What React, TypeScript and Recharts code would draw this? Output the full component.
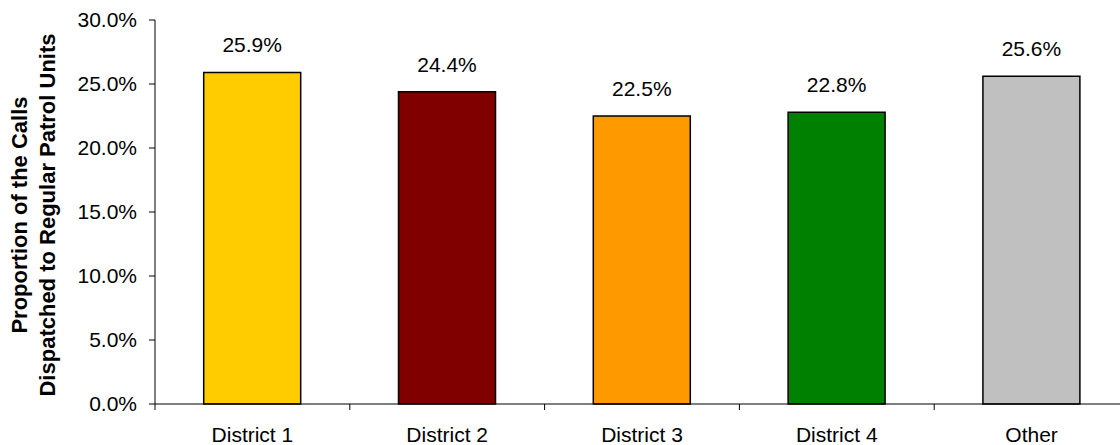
import React from 'react';
import { BarChart, Bar, XAxis, YAxis, Cell, LabelList, Label } from 'recharts';

const categories = ['District 1', 'District 2', 'District 3', 'District 4', 'Other'];
const values = [25.9, 24.4, 22.5, 22.8, 25.6];
const colors = ['#FFCC00', '#800000', '#FF9900', '#008000', '#C0C0C0'];
const yTicks = [0, 5, 10, 15, 20, 25, 30];
const titleLines = ['Proportion of the Calls', 'Dispatched to Regular Patrol Units'];

const data = categories.map((name, i) => ({ name, value: values[i] }));

const FONT = '"Liberation Sans", Arial, sans-serif';
const X_TICK_SIZE = 6;
const X_TICK_MARGIN = 17;

const YTitle = (props: any) => {
  const vb = props.viewBox || {};
  const cy = vb.y + vb.height / 2 + 3;
  const xs = [vb.x + 27, vb.x + 55];
  return (
    <g>
      {titleLines.map((t, i) => (
        <text
          key={i}
          x={xs[i]}
          y={cy}
          transform={`rotate(-90, ${xs[i]}, ${cy})`}
          textAnchor="middle"
          fontFamily={FONT}
          fontSize={22}
          fontWeight="bold"
          fill="#000"
        >
          {t}
        </text>
      ))}
    </g>
  );
};

// Category label at band centre, tick mark at band boundary (Excel style)
const XTick = (props: any) => {
  const { x, y, payload, width, visibleTicksCount, index } = props;
  const band = width / visibleTicksCount;
  const axisY = y - X_TICK_SIZE - X_TICK_MARGIN;
  const left = x - band / 2;
  const right = x + band / 2;
  return (
    <g>
      <line x1={left} y1={axisY} x2={left} y2={axisY + X_TICK_SIZE} stroke="#000" strokeWidth={1} />
      {index === visibleTicksCount - 1 && (
        <line x1={right} y1={axisY} x2={right} y2={axisY + X_TICK_SIZE} stroke="#000" strokeWidth={1} />
      )}
      <text x={x} y={y} dy="0.71em" textAnchor="middle" fill="#000" fontSize={21} fontFamily={FONT}>
        {payload.value}
      </text>
    </g>
  );
};

export default function App() {
  return (
    <div style={{ position: 'fixed', left: 0, top: 0, width: 1120, height: 445, overflow: 'hidden', background: '#fff' }}>
      <BarChart
        width={1130}
        height={445}
        data={data}
        margin={{ top: 20, right: 1, bottom: 0, left: 0 }}
        barCategoryGap="25%"
      >
        <XAxis
          dataKey="name"
          type="category"
          height={41}
          tickLine={false}
          tickSize={X_TICK_SIZE}
          tickMargin={X_TICK_MARGIN}
          axisLine={{ stroke: '#000', strokeWidth: 1 }}
          tick={<XTick />}
          interval={0}
        />
        <YAxis
          width={155}
          domain={[0, 30]}
          ticks={yTicks}
          interval={0}
          tickFormatter={(v: number) => `${v.toFixed(1)}%`}
          tick={{ fill: '#000', fontSize: 21, fontFamily: FONT }}
          tickSize={6}
          tickMargin={12}
          tickLine={{ stroke: '#000', strokeWidth: 1 }}
          axisLine={{ stroke: '#000', strokeWidth: 1 }}
        >
          <Label content={<YTitle />} position="insideLeft" />
        </YAxis>
        <Bar dataKey="value" stroke="#000" strokeWidth={1.5} isAnimationActive={false}>
          {data.map((d, i) => (
            <Cell key={d.name} fill={colors[i]} />
          ))}
          <LabelList
            dataKey="value"
            position="top"
            offset={20}
            formatter={(v: any) => `${Number(v).toFixed(1)}%`}
            style={{ fill: '#000', fontSize: 21, fontFamily: FONT }}
          />
        </Bar>
      </BarChart>
    </div>
  );
}
